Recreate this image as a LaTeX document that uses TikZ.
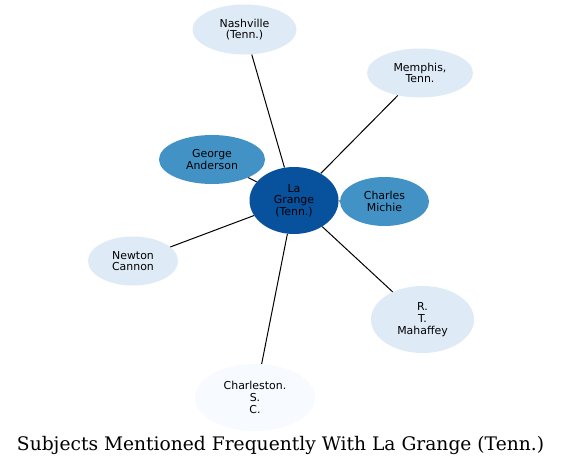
\documentclass[tikz,border=0pt]{standalone}
\usepackage{fontspec}
\setmainfont{DejaVu Sans}
\newfontfamily\titlefont{DejaVu Serif}
\usetikzlibrary{shapes.geometric}
\definecolor{cdark}{HTML}{08519C}
\definecolor{cmid}{HTML}{4292C6}
\definecolor{clight}{HTML}{DEEBF7}
\definecolor{cpale}{HTML}{F7FBFF}
\begin{document}
\begin{tikzpicture}[x=0.75pt,y=-0.75pt,
  ent/.style={ellipse,draw=none,inner sep=0pt,align=center,
    font=\fontsize{8.2pt}{8.8pt}\selectfont,text=black},
  edge/.style={draw=black,line width=0.75pt}]
\useasboundingbox (0,0) rectangle (561,467);
\fill[white] (0,0) rectangle (561,467);
\node[ent,fill=cdark,minimum width=66.75pt,minimum height=50.25pt] (lg) at (294,200.5) {La\\Grange\\(Tenn.)};
\node[ent,fill=clight,minimum width=78pt,minimum height=37.5pt] (na) at (244.5,29.5) {Nashville\\(Tenn.)};
\node[ent,fill=clight,minimum width=79.5pt,minimum height=36.75pt] (me) at (420,73) {Memphis,\\Tenn.};
\node[ent,fill=cmid,minimum width=79.5pt,minimum height=36.75pt] (ga) at (212,159.5) {George\\Anderson};
\node[ent,fill=cmid,minimum width=66.75pt,minimum height=36.75pt] (cm) at (384.5,201.5) {Charles\\Michie};
\node[ent,fill=clight,minimum width=67.5pt,minimum height=36.75pt] (nc) at (133,261) {Newton\\Cannon};
\node[ent,fill=clight,minimum width=77.25pt,minimum height=50.25pt] (rt) at (422.5,319.5) {R.\\T.\\Mahaffey};
\node[ent,fill=cpale,minimum width=90pt,minimum height=50.25pt] (ch) at (255,397.5) {Charleston.\\S.\\C.};
\foreach \n in {na,me,ga,cm,nc,rt,ch} \draw[edge] (lg) -- (\n);
\node[font=\titlefont\fontsize{14pt}{16pt}\selectfont,text=black] (title) at (280.5,445) {Subjects Mentioned Frequently With La Grange (Tenn.)};
\end{tikzpicture}
\end{document}
